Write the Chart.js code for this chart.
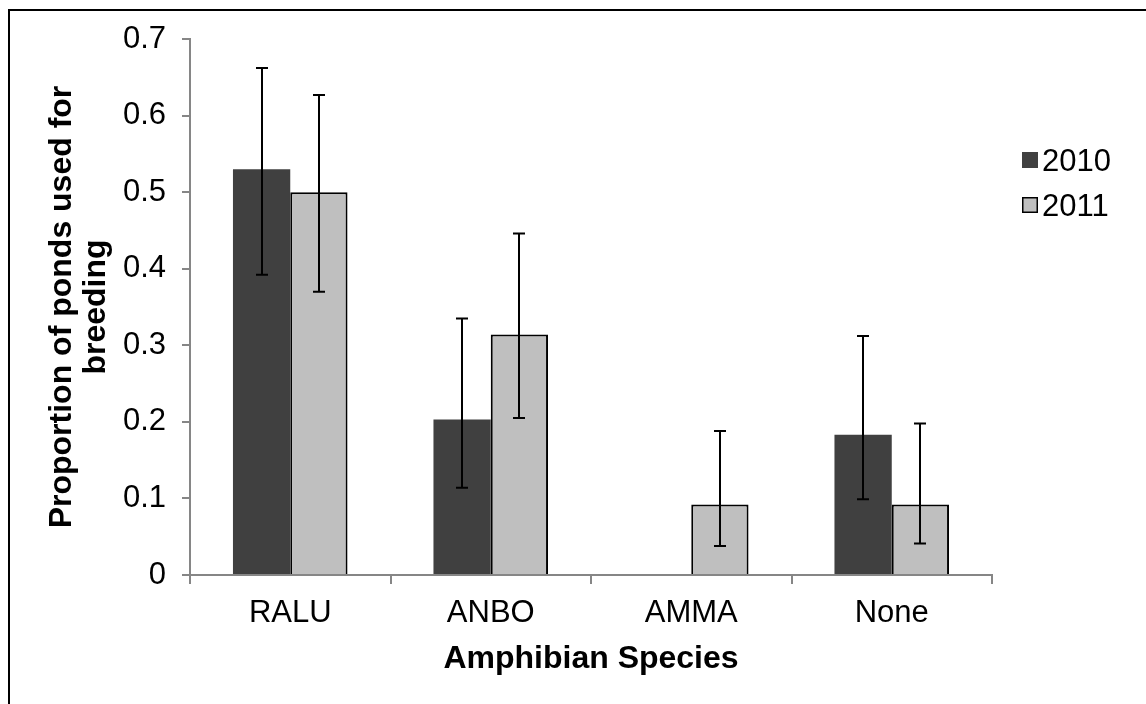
<!DOCTYPE html>
<html>
<head>
<meta charset="utf-8">
<script src="https://cdn.jsdelivr.net/npm/chart.js@4/dist/chart.umd.min.js"></script>
<style>
  html, body { margin: 0; padding: 0; background: #fff; overflow: hidden; }
  #wrap { position: relative; width: 1146px; height: 704px; }
  #frame { position: absolute; left: 8px; top: 9px; width: 1200px; height: 800px;
           border-top: 2px solid #000; border-left: 2px solid #000; box-sizing: border-box; }
  canvas { position: absolute; left: 0; top: 0; }
</style>
</head>
<body>
<div id="wrap">
  <div id="frame"></div>
  <canvas id="c" width="1146" height="704"></canvas>
</div>
<script>
// ---- data ----
const categories = ['RALU', 'ANBO', 'AMMA', 'None'];
const seriesNames = ['2010', '2011'];
const series2010 = [0.53, 0.203, 0, 0.183];
const series2011 = [0.50, 0.314, 0.092, 0.092];
const err2010Upper = [0.662, 0.335, null, 0.312];
const err2010Lower = [0.392, 0.114, null, 0.099];
const err2011Upper = [0.627, 0.446, 0.188, 0.198];
const err2011Lower = [0.370, 0.205, 0.038, 0.041];
const yTickLabels = ['0', '0.1', '0.2', '0.3', '0.4', '0.5', '0.6', '0.7'];
const xTitle = 'Amphibian Species';
const yTitle = ['Proportion of ponds used for', 'breeding'];

const FONT = "'Liberation Sans', Arial, sans-serif";
const AXIS_GREY = '#868686';

const errorBars = [
  { upper: err2010Upper, lower: err2010Lower },
  { upper: err2011Upper, lower: err2011Lower }
];

const errorBarPlugin = {
  id: 'errorBars',
  afterDatasetsDraw(chart) {
    const ctx = chart.ctx;
    const yScale = chart.scales.y;
    ctx.save();
    ctx.strokeStyle = '#000';
    ctx.lineWidth = 2;
    chart.data.datasets.forEach((ds, di) => {
      const meta = chart.getDatasetMeta(di);
      const eb = errorBars[di];
      meta.data.forEach((el, i) => {
        const hi = eb.upper[i], lo = eb.lower[i];
        if (hi == null || lo == null) return;
        const x = Math.round(el.x);
        const yh = yScale.getPixelForValue(hi);
        const yl = yScale.getPixelForValue(lo);
        const cap = 6;
        ctx.beginPath();
        ctx.moveTo(x, yh); ctx.lineTo(x, yl);
        ctx.moveTo(x - cap, yh); ctx.lineTo(x + cap, yh);
        ctx.moveTo(x - cap, yl); ctx.lineTo(x + cap, yl);
        ctx.stroke();
      });
    });
    ctx.restore();
  }
};

const legendPlugin = {
  id: 'sideLegend',
  afterDraw(chart) {
    const ctx = chart.ctx;
    const x0 = chart.chartArea.right + 30;
    const top0 = 152, step = 45, size = 16;
    ctx.save();
    chart.data.datasets.forEach((ds, i) => {
      const y = top0 + i * step;
      ctx.fillStyle = ds.backgroundColor;
      ctx.fillRect(x0, y, size, size);
      if (ds.borderWidth) {
        ctx.strokeStyle = '#000';
        ctx.lineWidth = 1.5;
        ctx.strokeRect(x0 + 0.75, y + 0.75, size - 1.5, size - 1.5);
      }
      ctx.fillStyle = '#000';
      ctx.font = '31px ' + FONT;
      ctx.textBaseline = 'middle';
      ctx.textAlign = 'left';
      ctx.fillText(ds.label, x0 + 20, y + size / 2 + 2);
    });
    ctx.restore();
  }
};

new Chart(document.getElementById('c'), {
  type: 'bar',
  data: {
    labels: categories,
    datasets: [
      { label: seriesNames[0], data: series2010, backgroundColor: '#404040', borderWidth: 0 },
      { label: seriesNames[1], data: series2011, backgroundColor: '#BFBFBF', borderColor: '#000', borderWidth: 2 }
    ]
  },
  plugins: [errorBarPlugin, legendPlugin],
  options: {
    responsive: false,
    animation: false,
    events: [],
    layout: { padding: { top: 39, right: 154, bottom: 0, left: 0 } },
    datasets: { bar: { categoryPercentage: 4 / 7, barPercentage: 1.0 } },
    plugins: { legend: { display: false }, tooltip: { enabled: false } },
    scales: {
      x: {
        grid: { display: true, drawOnChartArea: false, drawTicks: true, tickLength: 9, color: AXIS_GREY, lineWidth: 2, offset: true },
        border: { display: true, color: AXIS_GREY, width: 2 },
        ticks: { color: '#000', font: { family: FONT, size: 31 }, padding: 11, maxRotation: 0, autoSkip: false },
        title: { display: true, text: xTitle, color: '#000', font: { family: FONT, size: 32, weight: 'bold', lineHeight: 1.07 }, padding: { top: 0, bottom: 28 } },
        afterFit(scale) { scale.height = 129; }
      },
      y: {
        min: 0, max: 0.7,
        grid: { display: true, drawOnChartArea: false, drawTicks: true, tickLength: 8, color: AXIS_GREY, lineWidth: 2 },
        border: { display: true, color: AXIS_GREY, width: 2 },
        ticks: { stepSize: 0.1, color: '#000', font: { family: FONT, size: 31 }, padding: 16,
                 callback: (v, i) => yTickLabels[i] },
        title: { display: true, text: yTitle, color: '#000', font: { family: FONT, size: 32, weight: 'bold', lineHeight: 1.07 }, padding: { top: 45, bottom: 0 } },
        afterFit(scale) { scale.width = 190; }
      }
    }
  }
});
</script>
</body>
</html>
